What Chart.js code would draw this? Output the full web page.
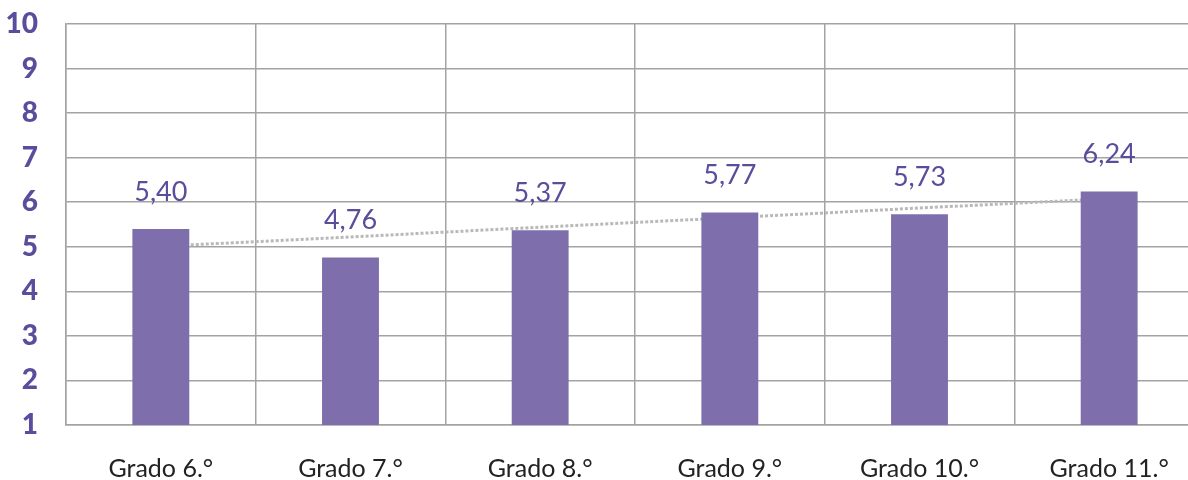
<!DOCTYPE html>
<html>
<head>
<meta charset="utf-8">
<script src="https://cdn.jsdelivr.net/npm/chart.js@4/dist/chart.umd.min.js"></script>
<style>
  html, body { margin: 0; padding: 0; overflow: hidden; background: #fff; }
  #wrap { width: 1210px; height: 480px; }
</style>
</head>
<body>
<div id="wrap"><canvas id="mycanvas" width="1210" height="480"></canvas></div>
<script>
var grados = ["Grado 6.°", "Grado 7.°", "Grado 8.°", "Grado 9.°", "Grado 10.°", "Grado 11.°"];
var promedio = [5.40, 4.76, 5.37, 5.77, 5.73, 6.24];
var etiquetas = ["5,40", "4,76", "5,37", "5,77", "5,73", "6,24"];
// dotted trend line
var tendencia = [5.01, 5.22, 5.44, 5.65, 5.87, 6.08];

var purple = "#7e6fac";
var purpleText = "#5b4c9c";
var gridColor = "#a3a3a3";

// value labels above the bars
var valueLabels = {
	id: "valueLabels",
	afterDatasetsDraw: function(chart) {
		var ctx = chart.ctx;
		var meta = chart.getDatasetMeta(0);
		ctx.save();
		ctx.font = "27px Lato";
		ctx.fillStyle = purpleText;
		ctx.textAlign = "center";
		ctx.textBaseline = "middle";
		meta.data.forEach(function(bar, i) {
			ctx.fillText(etiquetas[i], bar.x, bar.y - 37);
		});
		ctx.restore();
	}
};

var ctx = document.getElementById("mycanvas");

var graph = new Chart(ctx, {
	type: "bar",
	data: {
		labels: grados,
		datasets: [
			{
				type: "bar",
				data: promedio,
				backgroundColor: purple,
				barPercentage: 0.3,
				categoryPercentage: 1,
				order: 1
			},
			{
				type: "line",
				data: tendencia,
				borderColor: "#b9b9b9",
				borderWidth: 3,
				borderDash: [3, 2],
				pointRadius: 0,
				fill: false,
				order: 2
			}
		]
	},
	options: {
		responsive: false,
		animation: false,
		layout: { autoPadding: false, padding: { top: 24, right: 6, left: 0, bottom: 0 } },
		plugins: {
			legend: { display: false },
			tooltip: { enabled: false }
		},
		scales: {
			x: {
				grid: { color: gridColor, lineWidth: 1.5, drawTicks: false, offset: true },
				border: { color: gridColor, width: 1.5 },
				ticks: { color: "#222", font: { family: "Lato", size: 25 }, padding: 29 },
				afterFit: function(scale) { scale.height = 55; }
			},
			y: {
				min: 1,
				max: 10,
				grid: { color: gridColor, lineWidth: 1.5, drawTicks: false },
				border: { color: gridColor, width: 1.5 },
				ticks: {
					stepSize: 1,
					color: purpleText,
					font: { family: "Lato", size: 28, weight: "900" },
					padding: 28
				},
				afterFit: function(scale) {
					scale.width = 66;
					scale.paddingTop = 0;
					scale.paddingBottom = 0;
				}
			}
		}
	},
	plugins: [valueLabels]
});
</script>
</body>
</html>
